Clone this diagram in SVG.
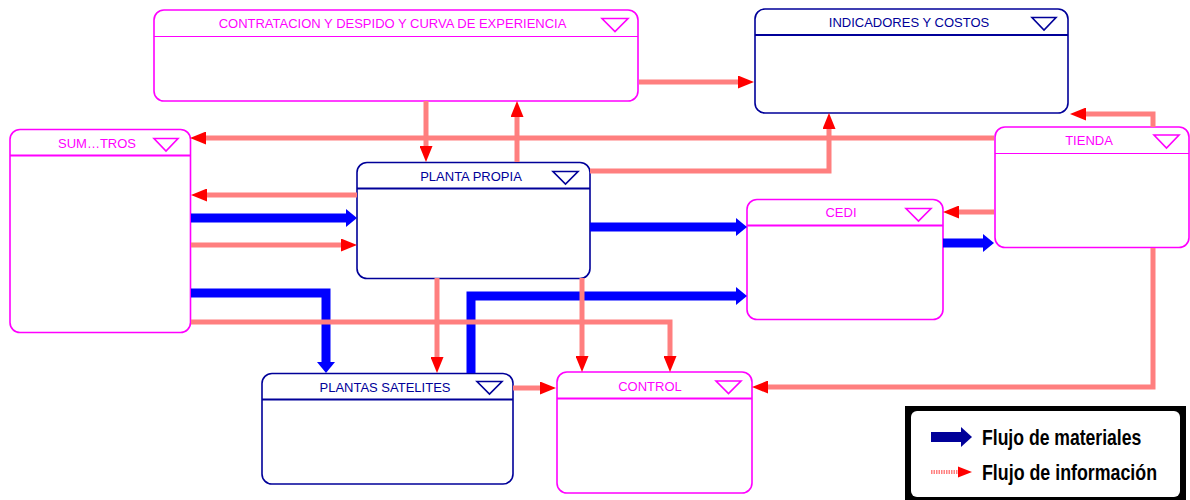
<svg xmlns="http://www.w3.org/2000/svg" width="1190" height="500" viewBox="0 0 1190 500">
  <style>
    .box { fill: #ffffff; stroke-width: 1.6; }
    .mag { stroke: #ff00ff; }
    .nav { stroke: #000099; }
    .hdr-m { stroke: #ff00ff; }
    .hdr-n { stroke: #000099; stroke-width: 2; }
    .tri { fill: none; stroke-width: 1.6; stroke-linejoin: miter; }
    .lbl { font-family: "Liberation Sans", Arial, sans-serif; font-size: 13px; text-anchor: middle; }
    .lm { fill: #ff00ff; }
    .ln { fill: #000099; }
    .info { fill: none; stroke: #ff7f7f; stroke-width: 5; stroke-linejoin: miter; marker-end: url(#infoHead); }
    .mat { fill: none; stroke: #0000ff; stroke-width: 9; stroke-linejoin: miter; marker-end: url(#matHead); }
    .leg { font-family: "Liberation Sans", Arial, sans-serif; font-size: 22px; font-weight: bold; fill: #000000; }
  </style>
  <defs>
    <marker id="infoHead" markerUnits="userSpaceOnUse" viewBox="0 0 16 13" markerWidth="16" markerHeight="13" refX="0" refY="6.5" orient="auto">
      <polygon points="0,0 16,6.5 0,13" fill="#ff0000"/>
    </marker>
    <marker id="matHead" markerUnits="userSpaceOnUse" viewBox="0 0 11 18" markerWidth="11" markerHeight="18" refX="0" refY="9" orient="auto">
      <polygon points="0,0 11,9 0,18" fill="#0000ff"/>
    </marker>
  </defs>

  <rect width="1190" height="500" fill="#ffffff"/>

  <!-- nodes -->
  <g id="contratacion">
    <rect class="box mag" x="154" y="10" width="484" height="91" rx="10"/>
    <line class="hdr-m" x1="154" y1="36.5" x2="638" y2="36.5" stroke-width="1.2"/>
    <text class="lbl lm" x="392.5" y="28">CONTRATACION Y DESPIDO Y CURVA DE EXPERIENCIA</text>
    <polygon class="tri mag" points="602,18.5 628,18.5 615,31.5"/>
  </g>

  <g id="indicadores">
    <rect class="box nav" x="755" y="9" width="313" height="104" rx="10"/>
    <line class="hdr-n" x1="755" y1="35" x2="1068" y2="35"/>
    <text class="lbl ln" x="909" y="27">INDICADORES Y COSTOS</text>
    <polygon class="tri nav" points="1032,17.5 1056,17.5 1044,30"/>
  </g>

  <g id="suministros">
    <rect class="box mag" x="10" y="129.5" width="180.5" height="203" rx="10"/>
    <line class="hdr-m" x1="10" y1="155.5" x2="190.5" y2="155.5" stroke-width="2"/>
    <text class="lbl lm" x="97" y="148">SUM…TROS</text>
    <polygon class="tri mag" points="154,138.5 178,138.5 166,151"/>
  </g>

  <g id="planta-propia">
    <rect class="box nav" x="357" y="162.5" width="233" height="116" rx="10"/>
    <line class="hdr-n" x1="357" y1="188.5" x2="590" y2="188.5"/>
    <text class="lbl ln" x="471" y="181">PLANTA PROPIA</text>
    <polygon class="tri nav" points="553,171.5 578,171.5 565.5,184"/>
  </g>

  <g id="cedi">
    <rect class="box mag" x="747" y="199.5" width="196" height="120" rx="10"/>
    <line class="hdr-m" x1="747" y1="225.5" x2="943" y2="225.5" stroke-width="2"/>
    <text class="lbl lm" x="841" y="217">CEDI</text>
    <polygon class="tri mag" points="906,208.5 931,208.5 918.5,221"/>
  </g>

  <g id="tienda">
    <rect class="box mag" x="995" y="127" width="194" height="120.5" rx="10"/>
    <line class="hdr-m" x1="995" y1="153.5" x2="1189" y2="153.5" stroke-width="1.2"/>
    <text class="lbl lm" x="1089" y="145">TIENDA</text>
    <polygon class="tri mag" points="1154,135 1179,135 1166.5,148"/>
  </g>

  <g id="plantas-satelites">
    <rect class="box nav" x="262" y="373.5" width="251" height="110.5" rx="10"/>
    <line class="hdr-n" x1="262" y1="399.5" x2="513" y2="399.5"/>
    <text class="lbl ln" x="385" y="392">PLANTAS SATELITES</text>
    <polygon class="tri nav" points="477,381.5 502,381.5 489.5,394"/>
  </g>

  <g id="control">
    <rect class="box mag" x="557" y="372" width="195" height="121" rx="10"/>
    <line class="hdr-m" x1="557" y1="398.5" x2="752" y2="398.5" stroke-width="2"/>
    <text class="lbl lm" x="650" y="391">CONTROL</text>
    <polygon class="tri mag" points="716,381 741,381 728.5,393.5"/>
  </g>

  <!-- connectors: material flows (blue) beneath information flows (red) -->
  <g id="connectors">
    <path class="mat" d="M191,218 H346"/>
    <path class="mat" d="M191,293 H326 V362"/>
    <path class="mat" d="M590,227 H736"/>
    <path class="mat" d="M471,373 V296 H736"/>
    <path class="mat" d="M943,243 H983"/>

    <path class="info" d="M639,82 H738"/>
    <path class="info" d="M426,101 V146"/>
    <path class="info" d="M517,162 V117"/>
    <path class="info" d="M994,138 H206"/>
    <path class="info" d="M590,171 H829 V129"/>
    <path class="info" d="M1153,127 V114 H1086"/>
    <path class="info" d="M357,195 H207"/>
    <path class="info" d="M191,245 H341"/>
    <path class="info" d="M191,322 H670 V356"/>
    <path class="info" d="M437,278 V357"/>
    <path class="info" d="M582,278 V356"/>
    <path class="info" d="M513,388 H540"/>
    <path class="info" d="M994,212 H959"/>
    <path class="info" d="M1153,248 V387 H768"/>
  </g>

  <!-- legend -->
  <g id="legend">
    <rect x="905" y="406" width="281" height="94" fill="#000000"/>
    <rect x="911" y="411" width="269" height="86" rx="6" fill="#ffffff"/>
    <rect x="931" y="432" width="31" height="10" fill="#000099"/>
    <polygon points="961,427 972,437 961,447" fill="#000099"/>
    <line x1="931" y1="472" x2="960" y2="472" stroke="#ff8080" stroke-width="4" stroke-dasharray="1.5,1"/>
    <polygon points="958,466.5 972,472 958,477.5" fill="#ff0000"/>
    <text class="leg" transform="translate(982,445) scale(0.8,1)" x="0" y="0">Flujo de materiales</text>
    <text class="leg" transform="translate(982,480) scale(0.81,1)" x="0" y="0">Flujo de información</text>
  </g>
</svg>
